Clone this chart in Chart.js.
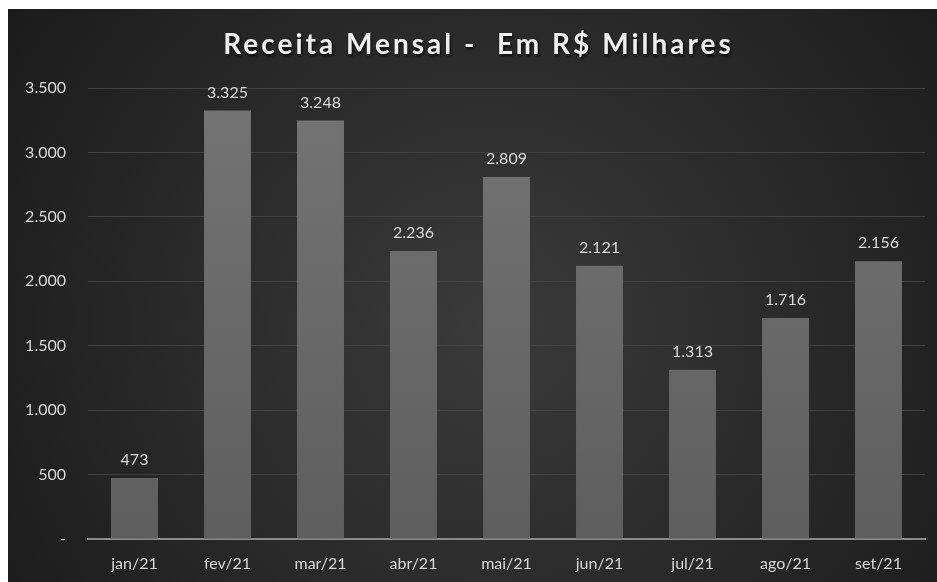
<!DOCTYPE html>
<html>
<head>
<meta charset="utf-8">
<script src="https://cdn.jsdelivr.net/npm/chart.js@4"></script>
<style>
  html, body { margin: 0; padding: 0; background: #fff; }
  #wrap { position: absolute; left: 8px; top: 9px; width: 929px; height: 573px; }
</style>
</head>
<body>
<div id="wrap"><canvas id="chartCanvas"></canvas></div>
<script>
const months = ['jan/21', 'fev/21', 'mar/21', 'abr/21', 'mai/21', 'jun/21', 'jul/21', 'ago/21', 'set/21'];
const receita = [473, 3325, 3248, 2236, 2809, 2121, 1313, 1716, 2156];
const yTicks = [0, 500, 1000, 1500, 2000, 2500, 3000, 3500];

const fontName = 'Lato, "Open Sans", sans-serif';

// number with dot as thousands separator
function fmt(v) {
    return String(Math.round(v)).replace(/\B(?=(\d{3})+(?!\d))/g, '.');
}

// dark radial background
const bgPlugin = {
    id: 'bg',
    beforeDraw(chart) {
        const ctx = chart.ctx;
        const w = chart.width, h = chart.height;
        const g = ctx.createRadialGradient(w * 0.52, h * 0.55, 0, w * 0.52, h * 0.55, w * 0.62);
        g.addColorStop(0, '#3a3a3a');
        g.addColorStop(1, '#1b1b1b');
        ctx.save();
        ctx.fillStyle = g;
        ctx.fillRect(0, 0, w, h);
        ctx.restore();
    }
};

// value labels above the bars
const valuePlugin = {
    id: 'values',
    afterDatasetsDraw(chart) {
        const ctx = chart.ctx;
        const meta = chart.getDatasetMeta(0);
        ctx.save();
        ctx.fillStyle = '#d9d9d9';
        ctx.font = '16px ' + fontName;
        ctx.textAlign = 'center';
        ctx.textBaseline = 'bottom';
        meta.data.forEach((bar, i) => {
            ctx.fillText(fmt(receita[i]), bar.x, bar.y - 10);
        });
        ctx.restore();
    }
};

// title with letter spacing and a soft shadow
const titlePlugin = {
    id: 'spacedTitle',
    afterDraw(chart) {
        const ctx = chart.ctx;
        ctx.save();
        ctx.font = 'bold 28px ' + fontName;
        ctx.letterSpacing = '3px';
        ctx.textAlign = 'center';
        ctx.textBaseline = 'middle';
        ctx.shadowColor = 'rgba(0,0,0,0.8)';
        ctx.shadowOffsetX = 1;
        ctx.shadowOffsetY = 2;
        ctx.shadowBlur = 3;
        ctx.fillStyle = '#efefef';
        ctx.fillText('Receita Mensal -  Em R$ Milhares', chart.width / 2 + 6, 36);
        ctx.restore();
    }
};

const data = {
    labels: months,
    datasets: [
        {
            label: 'Receita',
            data: receita,
            backgroundColor: function(context) {
                const area = context.chart.chartArea;
                if (!area) { return '#666'; }
                const g = context.chart.ctx.createLinearGradient(0, area.top, 0, area.bottom);
                g.addColorStop(0, '#747474');
                g.addColorStop(1, '#5e5e5e');
                return g;
            },
            categoryPercentage: 1.0,
            barPercentage: 0.505
        }
    ]
};

const config = {
    type: 'bar',
    data: data,
    options: {
        responsive: true,
        maintainAspectRatio: false,
        animation: false,
        layout: { padding: { left: 8, right: 12, top: 79, bottom: 0 } },
        plugins: {
            legend: { display: false },
            title: { display: false },
            tooltip: { enabled: false }
        },
        scales: {
            x: {
                grid: { display: false, drawTicks: false },
                border: { display: true, color: '#8a8a8a', width: 2 },
                ticks: { color: '#d9d9d9', font: { family: fontName, size: 16 }, padding: 15 },
                afterFit(axis) { axis.height = 43; }
            },
            y: {
                min: 0,
                max: 3500,
                afterBuildTicks(axis) {
                    axis.ticks = yTicks.map(v => ({ value: v }));
                },
                grid: { color: '#414141', lineWidth: 1, drawTicks: false },
                border: { display: false },
                ticks: {
                    color: '#d9d9d9',
                    font: { family: fontName, size: 16 },
                    padding: 22,
                    callback: v => v === 0 ? '-' : fmt(v)
                },
                afterFit(axis) { axis.width = 72; }
            }
        }
    },
    plugins: [bgPlugin, valuePlugin, titlePlugin]
};

let myChart = new Chart(document.getElementById('chartCanvas'), config);
</script>
</body>
</html>
